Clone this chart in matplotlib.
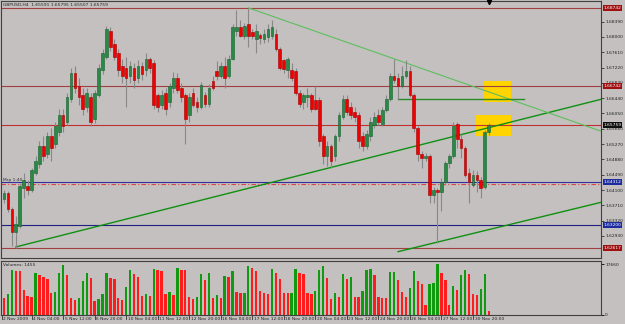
import numpy as np
import matplotlib
matplotlib.use("Agg")
import matplotlib.pyplot as plt
from matplotlib.patches import Rectangle

plt.rcParams['font.family'] = ['Liberation Sans Narrow', 'DejaVu Sans']

# ---------------- data (GBPUSD, H4) ----------------
opens = [1.6386, 1.6403, 1.6361, 1.6304, 1.6319, 1.6415, 1.6420, 1.6410, 1.6453, 1.6477,
         1.6522, 1.6502, 1.6547, 1.6527, 1.6559, 1.6601, 1.6584, 1.6641, 1.6708, 1.6676,
         1.6651, 1.6621, 1.6646, 1.6591, 1.6651, 1.6715, 1.6750, 1.6815, 1.6782, 1.6758,
         1.6725, 1.6720, 1.6700, 1.6720, 1.6696, 1.6725, 1.6715, 1.6745, 1.6733, 1.6651,
         1.6626, 1.6656, 1.6634, 1.6671, 1.6696, 1.6671, 1.6651, 1.6601, 1.6658, 1.6634,
         1.6621, 1.6653, 1.6629, 1.6688, 1.6713, 1.6700, 1.6725, 1.6700, 1.6745, 1.6815,
         1.6825, 1.6802, 1.6832, 1.6812, 1.6795, 1.6805, 1.6795, 1.6800, 1.6802, 1.6807,
         1.6770, 1.6740, 1.6715, 1.6715, 1.6713, 1.6658, 1.6634, 1.6646, 1.6653, 1.6639,
         1.6639, 1.6547, 1.6497, 1.6522, 1.6497, 1.6547, 1.6596, 1.6641, 1.6621, 1.6609,
         1.6601, 1.6547, 1.6522, 1.6547, 1.6576, 1.6601, 1.6579, 1.6614, 1.6641, 1.6700,
         1.6696, 1.6676, 1.6700, 1.6713, 1.6653, 1.6567, 1.6502, 1.6492, 1.6497, 1.6398,
         1.6410, 1.6405, 1.6430, 1.6480, 1.6497, 1.6579, 1.6540, 1.6517, 1.6453, 1.6423,
         1.6448, 1.6435, 1.6418, 1.65591]
highs = [1.6410, 1.6408, 1.6368, 1.6343, 1.6428, 1.6453, 1.6435, 1.6467, 1.6497, 1.6534,
         1.6547, 1.6559, 1.6567, 1.6584, 1.6616, 1.6616, 1.6658, 1.6720, 1.6725, 1.6696,
         1.6671, 1.6671, 1.6658, 1.6666, 1.6730, 1.6770, 1.6827, 1.6825, 1.6795, 1.6770,
         1.6745, 1.6750, 1.6738, 1.6733, 1.6740, 1.6735, 1.6758, 1.6750, 1.6740, 1.6658,
         1.6666, 1.6671, 1.6683, 1.6710, 1.6708, 1.6683, 1.6658, 1.6656, 1.6671, 1.6646,
         1.6686, 1.6661, 1.6681, 1.6700, 1.6738, 1.6735, 1.6750, 1.6753, 1.6832, 1.6869,
         1.6844, 1.6835, 1.68742, 1.6820, 1.6832, 1.6810, 1.6820, 1.6832, 1.6844, 1.6820,
         1.6775, 1.6745, 1.6750, 1.6733, 1.6720, 1.6666, 1.6658, 1.6671, 1.6658, 1.6676,
         1.6646, 1.6552, 1.6534, 1.6527, 1.6552, 1.6609, 1.6651, 1.6651, 1.6634, 1.6621,
         1.6609, 1.6559, 1.6562, 1.6596, 1.6609, 1.6616, 1.6621, 1.6651, 1.6708, 1.6745,
         1.6708, 1.6725, 1.6740, 1.6725, 1.6658, 1.6572, 1.6510, 1.6505, 1.6502, 1.6418,
         1.6415, 1.6440, 1.6485, 1.6502, 1.6584, 1.6584, 1.6554, 1.6522, 1.6467, 1.6460,
         1.6458, 1.6443, 1.6564, 1.65795]
lows = [1.6378, 1.6353, 1.6267, 1.62617, 1.6314, 1.6390, 1.6398, 1.6405, 1.6448, 1.6467,
        1.6485, 1.6492, 1.6485, 1.6517, 1.6547, 1.6559, 1.6576, 1.6634, 1.6658, 1.6626,
        1.6601, 1.6609, 1.6572, 1.6581, 1.6646, 1.6705, 1.6745, 1.6765, 1.6740, 1.6700,
        1.6683, 1.6621, 1.6683, 1.6671, 1.6683, 1.6691, 1.6700, 1.6708, 1.6616, 1.6609,
        1.6616, 1.6601, 1.6621, 1.6658, 1.6656, 1.6634, 1.6527, 1.6584, 1.6621, 1.6609,
        1.6616, 1.6621, 1.6621, 1.6666, 1.6691, 1.6696, 1.6671, 1.6696, 1.6740, 1.6802,
        1.6800, 1.6795, 1.6775, 1.6795, 1.6758, 1.6782, 1.6785, 1.6787, 1.6795, 1.6765,
        1.6715, 1.6708, 1.6696, 1.6688, 1.6651, 1.6621, 1.6616, 1.6621, 1.6609, 1.6614,
        1.6522, 1.6477, 1.6472, 1.6467, 1.6485, 1.6534, 1.6591, 1.6601, 1.6591, 1.6584,
        1.6517, 1.6510, 1.6515, 1.6534, 1.6567, 1.6576, 1.6572, 1.6609, 1.6636, 1.6683,
        1.6641, 1.6671, 1.6696, 1.6648, 1.6559, 1.6485, 1.6467, 1.6485, 1.6378, 1.6378,
        1.6274, 1.6356, 1.6423, 1.6467, 1.6492, 1.6517, 1.6492, 1.6443, 1.6378, 1.6418,
        1.6405, 1.6390, 1.6413, 1.65507]
closes = [1.6403, 1.6361, 1.6304, 1.6324, 1.6420, 1.6435, 1.6410, 1.6460, 1.6485, 1.6522,
          1.6497, 1.6547, 1.6517, 1.6572, 1.6601, 1.6572, 1.6646, 1.6708, 1.6671, 1.6646,
          1.6616, 1.6658, 1.6584, 1.6658, 1.6720, 1.6758, 1.6820, 1.6775, 1.6750, 1.6715,
          1.6700, 1.6696, 1.6725, 1.6691, 1.6725, 1.6705, 1.6745, 1.6720, 1.6626, 1.6621,
          1.6651, 1.6616, 1.6676, 1.6696, 1.6666, 1.6646, 1.6591, 1.6646, 1.6626, 1.6621,
          1.6678, 1.6629, 1.6671, 1.6671, 1.6700, 1.6725, 1.6696, 1.6745, 1.6825, 1.6825,
          1.6802, 1.6827, 1.6802, 1.6802, 1.6815, 1.6797, 1.6807, 1.6820, 1.6825, 1.6770,
          1.6720, 1.6718, 1.6743, 1.6696, 1.6658, 1.6629, 1.6651, 1.6653, 1.6616, 1.6616,
          1.6534, 1.6497, 1.6522, 1.6485, 1.6547, 1.6601, 1.6641, 1.6609, 1.6601, 1.6596,
          1.6534, 1.6522, 1.6552, 1.6584, 1.6596, 1.6584, 1.6614, 1.6641, 1.6700, 1.6691,
          1.6676, 1.6700, 1.6713, 1.6653, 1.6567, 1.6502, 1.6492, 1.6497, 1.6398, 1.6410,
          1.6405, 1.6430, 1.6480, 1.6497, 1.6572, 1.6540, 1.6517, 1.6448, 1.6430, 1.6448,
          1.6435, 1.6415, 1.6559, 1.65759]
volumes = [5800, 7300, 15660, 15080, 15080, 8700, 6610, 6150, 14730, 13920,
           13110, 12530, 7770, 8120, 14500, 17170, 13920, 5800, 5220, 5800,
           11830, 14730, 12760, 4990, 5450, 7190, 14500, 12760, 12410, 6030,
           5220, 9630, 15430, 14270, 13110, 6610, 7310, 6610, 15890, 15660,
           15080, 7310, 7890, 6960, 16240, 15430, 15430, 6380, 5450, 6380,
           14150, 12180, 14500, 5800, 6960, 5800, 13570, 13110, 15080, 8120,
           7540, 7770, 17050, 16240, 15080, 8350, 7540, 7310, 16010, 14500,
           12410, 7770, 7540, 7770, 16010, 14500, 14150, 7540, 7310, 8350,
           15430, 17050, 12760, 5450, 7540, 6380, 14270, 12410, 13110, 6380,
           6380, 8470, 15660, 15800, 13920, 6380, 5800, 5800, 14850, 14950,
           12180, 8120, 6380, 9280, 15080, 11830, 10670, 3480, 10670, 11020,
           17630, 14500, 12180, 3480, 10090, 8700, 13920, 15430, 14270, 7310,
           6960, 9050, 14270, 1455]

header = "GBPUSD,H4  1.65591 1.65795 1.65507 1.65759"
price_ticks = [1.68390, 1.68000, 1.67610, 1.67220, 1.66830, 1.66440, 1.66050, 1.65660,
               1.65270, 1.64880, 1.64490, 1.64100, 1.63710, 1.63320, 1.62930]
date_labels = ["2 Nov 2009", "4 Nov 04:00", "5 Nov 12:00", "6 Nov 20:00", "10 Nov 04:00",
               "11 Nov 12:00", "12 Nov 20:00", "16 Nov 04:00", "17 Nov 12:00", "18 Nov 20:00",
               "20 Nov 04:00", "23 Nov 12:00", "24 Nov 20:00", "26 Nov 04:00", "27 Nov 12:00",
               "30 Nov 20:00"]
date_bars = [-0.6, 7, 15, 23, 31, 39, 47, 55, 63, 71, 79, 87, 95, 103, 111, 119]

# horizontal levels: (price, line colour, linestyle, label colour)
levels = [(1.68742, '#a04040', '-', '#a01010'),
          (1.66742, '#a04040', '-', '#a01010'),
          (1.65759, '#c03030', '-', '#101010'),
          (1.64312, '#3030a0', '-', '#1c2ca0'),
          (1.63200, '#202080', '-', '#1c2ca0'),
          (1.62617, '#a04040', '-', '#a01010')]
dashdot_level = 1.6426
# trend lines: (bar1, price1, bar2, price2)
trend_dark = [(3, 1.6265, 110, 1.6536), (100, 1.6253, 150, 1.6375)]
trend_light = (62, 1.68742, 123, 1.6660)
hline_green = (100, 132, 1.6641)
yellow_boxes = [(121.8, 128.7, 1.6634, 1.6688), (119.8, 128.7, 1.6547, 1.6601)]

# ---------------- figure ----------------
BG = '#c4c0c0'
FS = 3.15
W, H = 625, 324
fig = plt.figure(figsize=(W / 100, H / 100), dpi=100, facecolor=BG)


def rect(l, t, r, b):
    return [l / W, 1 - b / H, (r - l) / W, (b - t) / H]


ax = fig.add_axes(rect(1, 1, 601, 258), facecolor=BG)
axv = fig.add_axes(rect(1, 261, 601, 315), facecolor=BG, sharex=ax)

n = len(opens)
x = np.arange(n)
o = np.array(opens); h = np.array(highs); l = np.array(lows); c = np.array(closes)
XMAX = 151.5
ax.set_xlim(-0.76, XMAX)
ax.set_ylim(1.68742 - 257 * 0.000248, 1.68742 + 7 * 0.000248)

# yellow rectangles (background objects)
for x0, x1, p0, p1 in yellow_boxes:
    ax.add_patch(Rectangle((x0, p0), x1 - x0, p1 - p0, facecolor='#ffd400',
                           edgecolor='none', zorder=0.5))

# level lines
for p, col, ls, lc in levels:
    ax.axhline(p, color=col, lw=0.8, ls=ls, zorder=1)
ax.axhline(dashdot_level, color='#e04040', lw=0.8, ls=(0, (4, 2, 1, 2)), zorder=1)

# trend lines (rays to the right)
for b1, p1, b2, p2 in trend_dark:
    slope = (p2 - p1) / (b2 - b1)
    ax.plot([b1, XMAX + 2], [p1, p1 + slope * (XMAX + 2 - b1)], color='#109010', lw=1.0, zorder=1.2)
b1, p1, b2, p2 = trend_light
slope = (p2 - p1) / (b2 - b1)
ax.plot([b1, XMAX + 2], [p1, p1 + slope * (XMAX + 2 - b1)], color='#5cbf5c', lw=0.8, zorder=1.2)
ax.plot([hline_green[0], hline_green[1]], [hline_green[2]] * 2, color='#2a8a2a', lw=1.0, zorder=1.2)

# candles
up = c >= o
ax.vlines(x, l, h, color='#888888', lw=0.8, zorder=2)
body_lo = np.minimum(o, c)
body_h = np.maximum(np.abs(c - o), 0.00006)
ax.bar(x[up], body_h[up], bottom=body_lo[up], width=0.68, color='#2a8a45',
       edgecolor='#186030', linewidth=0.4, zorder=3)
ax.bar(x[~up], body_h[~up], bottom=body_lo[~up], width=0.68, color='#f00000',
       edgecolor='#a00000', linewidth=0.4, zorder=3)

# axes styling
for a in (ax, axv):
    for s in a.spines.values():
        s.set_color('#404040')
        s.set_linewidth(0.8)
    a.tick_params(axis='x', bottom=False, labelbottom=False)
ax.yaxis.tick_right()
ax.set_yticks(price_ticks)
ax.set_yticklabels([f"{t:.5f}" for t in price_ticks])
ax.tick_params(axis='y', right=True, length=2, width=0.6, color='#303030', labelsize=FS,
               pad=1, labelcolor='#202020')

# price boxes on the right axis
for p, col, ls, lc in levels:
    ax.text(1.004, p, f"{p:.5f}", transform=ax.get_yaxis_transform(), ha='left', va='center',
            fontsize=FS, color='white', clip_on=False, zorder=10,
            bbox=dict(boxstyle='square,pad=0.2', fc=lc, ec='none'))

ax.text(0.004, 1.0 - 4 / 257, header, transform=ax.transAxes, ha='left', va='center',
        fontsize=FS, color='#202020')
ax.text(2 / 600, 1.64312, "Mrp 1:40", transform=ax.get_yaxis_transform(), ha='left',
        va='bottom', fontsize=FS, color='#303030')
ax.plot([n - 1], [0.995], marker='v', color='black', markersize=3,
        transform=ax.get_xaxis_transform(), clip_on=False, zorder=10)

# volumes
vol = np.array(volumes)
vcol = ['#109a10' if i > 0 and vol[i] > vol[i - 1] else '#ff1c1c' for i in range(n)]
axv.bar(x, vol, width=0.6, color=vcol, zorder=2)
axv.set_ylim(0, 17660 * 53 / 50)
axv.yaxis.tick_right()
axv.set_yticks([0, 17660])
axv.set_yticklabels(['0', '17660'])
axv.tick_params(axis='y', right=True, length=2, width=0.6, labelsize=FS, pad=1,
                labelcolor='#202020')
axv.text(0.004, 0.96, f"Volumes: {volumes[-1]}", transform=axv.transAxes, ha='left', va='top',
         fontsize=FS, color='#202020')

for b, lab in zip(date_bars, date_labels):
    axv.plot([b, b], [-0.02, -0.07], color='#303030', lw=0.6, transform=axv.get_xaxis_transform(),
             clip_on=False)
    axv.text(b + 0.4, -0.04, lab, transform=axv.get_xaxis_transform(), ha='left', va='top',
             fontsize=FS, color='#202020')

fig.savefig('out.png', dpi=100, facecolor=BG)
